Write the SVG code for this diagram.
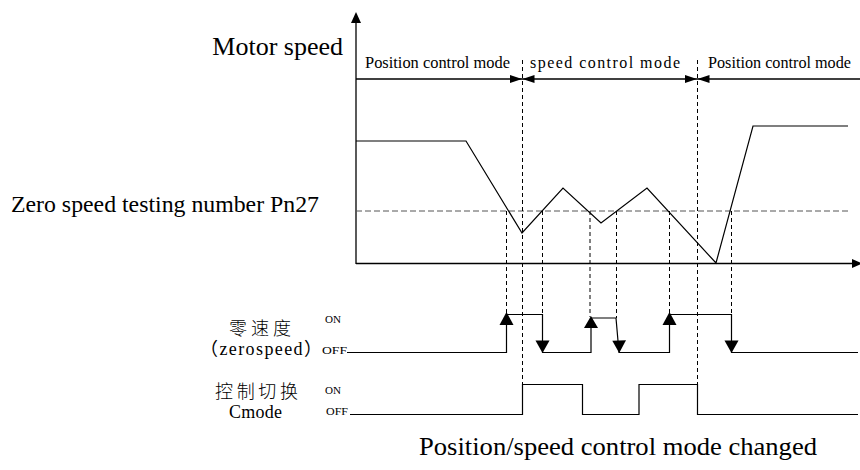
<svg xmlns="http://www.w3.org/2000/svg" width="860" height="470" viewBox="0 0 860 470">
  <style>
    .ser { font-family: "Liberation Serif", "Times New Roman", serif; fill: #000; }
    .song { font-family: "Liberation Serif", "Noto Sans CJK SC", serif; fill: #000; }
    .cjk { font-family: "Noto Sans CJK SC", "Liberation Serif", sans-serif; fill: #000; font-weight: 300; }
    .axis { stroke: #000; stroke-width: 1.3; fill: none; }
    .curve { stroke: #000; stroke-width: 1.2; fill: none; }
    .sig { stroke: #000; stroke-width: 1.2; fill: none; }
    .vdash { stroke: #000; stroke-width: 1; stroke-dasharray: 4 3; fill: none; }
    .hdash { stroke: #555; stroke-width: 1; stroke-dasharray: 6 3; fill: none; }
    .head { fill: #000; stroke: none; }
  </style>

  <g id="axes">
    <line class="axis" x1="356" y1="20" x2="356" y2="264"/>
    <polygon class="head" points="356,12 351,23 361,23"/>
    <line class="axis" x1="356" y1="263.5" x2="852" y2="263.5"/>
    <polygon class="head" points="862,263.5 852,259 852,268"/>
  </g>

  <g id="mode-bar">
    <line class="axis" x1="356" y1="79" x2="860" y2="79"/>
    <polygon class="head" points="522,79 510,75 510,83"/>
    <polygon class="head" points="522.5,79 534.5,75 534.5,83"/>
    <polygon class="head" points="697,79 685,75 685,83"/>
    <polygon class="head" points="697.5,79 709.5,75 709.5,83"/>
    <text class="ser" x="365" y="68" font-size="17" textLength="145" lengthAdjust="spacingAndGlyphs">Position control mode</text>
    <text class="song" x="530" y="68" font-size="16" textLength="150" lengthAdjust="spacing">speed control mode</text>
    <text class="ser" x="708" y="68" font-size="16.5" textLength="143" lengthAdjust="spacingAndGlyphs">Position control mode</text>
  </g>

  <g id="labels">
    <text class="ser" x="343" y="55" font-size="26" text-anchor="end">Motor speed</text>
    <text class="ser" x="11" y="212" font-size="23.5" textLength="308" lengthAdjust="spacingAndGlyphs">Zero speed testing number Pn27</text>
    <text class="ser" x="419" y="455" font-size="25" textLength="398" lengthAdjust="spacingAndGlyphs">Position/speed control mode changed</text>
  </g>

  <g id="speed-curve">
    <line class="hdash" x1="356" y1="211" x2="848" y2="211"/>
    <polyline class="curve" points="356,141 466,141 522,233 563,188 601,223 647,188 716,263 753,126 848,126"/>
  </g>

  <g id="guides">
    <line class="vdash" x1="522.5" y1="60" x2="522.5" y2="384"/>
    <line class="vdash" x1="697.5" y1="60" x2="697.5" y2="384"/>
    <line class="vdash" x1="506.5" y1="211" x2="506.5" y2="313"/>
    <line class="vdash" x1="542.5" y1="211" x2="542.5" y2="314"/>
    <line class="vdash" x1="590" y1="211" x2="590" y2="317"/>
    <line class="vdash" x1="616.5" y1="211" x2="616.5" y2="318"/>
    <line class="vdash" x1="669.5" y1="211" x2="669.5" y2="313"/>
    <line class="vdash" x1="731.5" y1="211" x2="731.5" y2="314"/>
  </g>

  <g id="zerospeed">
    <text class="cjk" x="229" y="335" font-size="18" textLength="62" lengthAdjust="spacing">零速度</text>
    <text class="song" x="200" y="355" font-size="18" textLength="122" lengthAdjust="spacing">（zerospeed）</text>
    <text class="ser" x="325" y="322.5" font-size="11" textLength="16" lengthAdjust="spacingAndGlyphs">ON</text>
    <text class="ser" x="322" y="354" font-size="11" textLength="25" lengthAdjust="spacingAndGlyphs">OFF</text>
    <path class="sig" d="M347,352.5 H506.5 V314.5 H542.5 V352.5 H591 V318 H616 L619,352.5 H669.5 V314.5 H731.5 V352.5 H858"/>
    <polygon class="head" points="506.5,312 499.5,325 513.5,325"/>
    <polygon class="head" points="542.5,353 535.5,340.5 549.5,340.5"/>
    <polygon class="head" points="591,316 584,328 598,328"/>
    <polygon class="head" points="619.2,353 612.3,340.8 626,340.2"/>
    <polygon class="head" points="669.5,312 662.5,325 676.5,325"/>
    <polygon class="head" points="731.5,353 724.5,340.5 738.5,340.5"/>
  </g>

  <g id="cmode">
    <text class="cjk" x="215" y="398" font-size="18" textLength="83" lengthAdjust="spacing">控制切换</text>
    <text class="song" x="229" y="418" font-size="18" textLength="53" lengthAdjust="spacing">Cmode</text>
    <text class="ser" x="325" y="394" font-size="11" textLength="16" lengthAdjust="spacingAndGlyphs">ON</text>
    <text class="ser" x="326" y="414.5" font-size="11" textLength="22" lengthAdjust="spacingAndGlyphs">OFF</text>
    <path class="sig" d="M350,414.5 H522.5 V384.5 H582.5 V414.5 H639 V384.5 H697.5 V414.5 H858"/>
  </g>
</svg>
